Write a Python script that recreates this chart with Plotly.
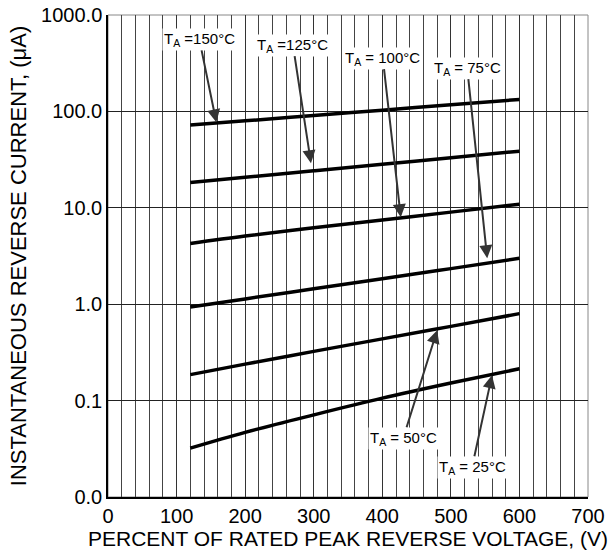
import math
import plotly.graph_objects as go

voltage = [120, 200, 300, 400, 500, 600]
i_150 = [72.1, 79.8, 90.8, 103, 117, 133]
i_125 = [18.3, 20.7, 24.2, 28.3, 33.1, 38.7]
i_100 = [4.26, 5.09, 6.21, 7.48, 9.02, 10.9]
i_75 = [0.935, 1.135, 1.445, 1.84, 2.34, 2.99]
i_50 = [0.186, 0.239, 0.324, 0.437, 0.589, 0.798]
i_25 = [0.0321, 0.0468, 0.0711, 0.106, 0.152, 0.214]
series = [i_150, i_125, i_100, i_75, i_50, i_25]

y_tickvals = [0.01, 0.1, 1, 10, 100, 1000]
y_ticktext = ["0.0", "0.1", "1.0", "10.0", "100.0", "1000.0"]
x_tickvals = [0, 100, 200, 300, 400, 500, 600, 700]

labels = ["T<sub>A</sub> =150°C", "T<sub>A</sub> =125°C", "T<sub>A</sub> = 100°C",
          "T<sub>A</sub> = 75°C", "T<sub>A</sub> = 50°C", "T<sub>A</sub> = 25°C"]
label_x = [158, 296, 427, 553, 480, 560]
label_y = [77, 29, 8.0, 3.0, 0.536, 0.183]
label_ax = [-17, -18, -18, -20, -34, -20]
label_ay = [-83, -118, -159, -190, 108, 92]

fig = go.Figure()
for s in series:
    fig.add_trace(go.Scatter(x=voltage, y=s, mode="lines",
                             line=dict(color="black", width=3.5, shape="spline", smoothing=1),
                             showlegend=False))

for t, x, y, ax, ay in zip(labels, label_x, label_y, label_ax, label_ay):
    fig.add_annotation(x=x, y=math.log10(y), xref="x", yref="y", text=t,
                       showarrow=True, ax=ax, ay=ay, axref="pixel", ayref="pixel",
                       arrowhead=2, arrowsize=1.3, arrowwidth=2, arrowcolor="#333333",
                       bgcolor="white", font=dict(size=15, color="black",
                       family="Liberation Sans, Arial, sans-serif"), borderpad=1)

fig.update_layout(
    width=615, height=555,
    margin=dict(l=108, r=27, t=15, b=58),
    paper_bgcolor="white", plot_bgcolor="white",
    font=dict(family="Liberation Sans, Arial, sans-serif", color="black"),
)
fig.update_xaxes(range=[0, 700], tickvals=x_tickvals, ticks="", automargin=False,
                 tickfont=dict(size=20), showgrid=True, gridcolor="#333333", gridwidth=1,
                 minor=dict(dtick=20, tick0=0, showgrid=True, gridcolor="#444444", gridwidth=1),
                 showline=True, linecolor="black", linewidth=1.5, mirror=False,
                 zeroline=False,
                 title=dict(text="PERCENT OF RATED PEAK REVERSE VOLTAGE, (V)",
                            font=dict(size=21), standoff=6))
fig.update_yaxes(type="log", range=[-2, 3], tickvals=y_tickvals, ticktext=y_ticktext,
                 ticks="", automargin=False, tickfont=dict(size=20), showgrid=True,
                 gridcolor="#222222", gridwidth=1, showline=True, linecolor="black",
                 linewidth=1.5, zeroline=False,
                 title=dict(text="INSTANTANEOUS REVERSE CURRENT, (μA)",
                            font=dict(size=22), standoff=8))
fig.add_shape(type="rect", xref="paper", yref="paper", x0=0, y0=0, x1=1, y1=1,
              line=dict(color="#888888", width=1), layer="below")

fig.write_html("out.html", config={"displayModeBar": False},
               post_script="document.body.style.margin='0';document.body.style.overflow='hidden';")
